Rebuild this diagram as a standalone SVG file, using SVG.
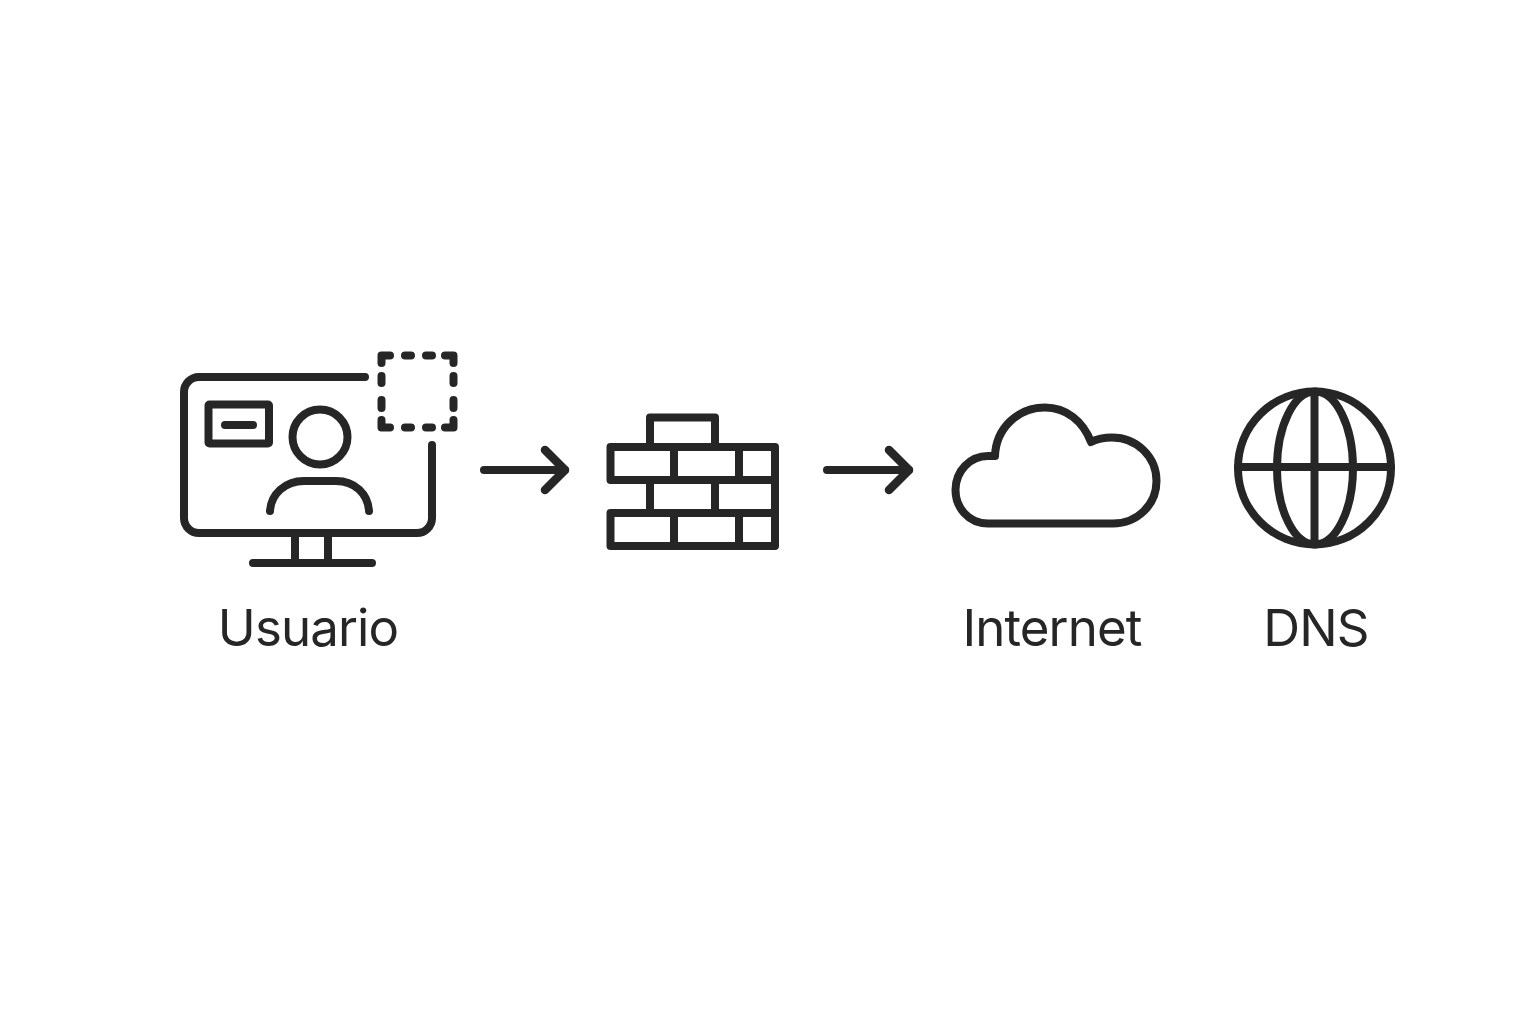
<svg xmlns="http://www.w3.org/2000/svg" width="1536" height="1024" viewBox="0 0 1536 1024">
<style>
.s{fill:none;stroke:#262626;stroke-width:8;stroke-linecap:round;stroke-linejoin:round}
.h{stroke-width:8.500}
.t{font-family:Inter,"Liberation Sans",sans-serif;font-size:51px;letter-spacing:-0.9px;fill:#262626;text-anchor:middle}
</style>
<rect width="1536" height="1024" fill="#fff"/>
<g id="usuario">
<path class="s" d="M365 377H199A15 15 0 0 0 184 392V518A15 15 0 0 0 199 533H417A15 15 0 0 0 432 518V445"/>
<path class="s" d="M295 533V563M328 533V563M253 563H372"/>
<rect class="s" x="208.500" y="404.500" width="60.500" height="39" rx="1"/>
<path class="s" d="M225 425H253"/>
<circle class="s" cx="320" cy="437" r="27.500"/>
<path class="s" d="M270 511C271 494 285 481 304 481H336C355 481 368 494 369 511"/>
<path class="s" d="M381.500 363V355.500H390M405 355.500H411M426 355.500H432M445 355.500H453.500V363M381.500 376V383M381.500 400V408M453.500 376V383M453.500 400V408M381.500 420V427.500H390M405 427.500H411M426 427.500H432M445 427.500H453.500V420"/>
<text class="t" x="308" y="646">Usuario</text>
</g>
<g id="firewall">
<path class="s" d="M610.500 480V447H775V546H610.500V513H775M610.500 480H775M650 447V417.500H715V447M674 447V480M739 447V480M650 480V513M715 480V513M674 513V546M739 513V546"/>
</g>
<g id="internet">
<path class="s" d="M988 523.500C968 523.500 955.500 507 955.500 490C955.500 471 970 456 988 456L995 456C996 428 1018 407.500 1045 407.500C1066 407.500 1083 421 1091 442C1097 439 1104 437.500 1112 437.500C1137 437.500 1156.500 457 1156.500 481C1156.500 505 1137 523.500 1113 523.500Z"/>
<text class="t" x="1052" y="646">Internet</text>
</g>
<g id="dns">
<circle class="s" cx="1314.500" cy="468" r="76.500"/>
<ellipse class="s" cx="1315" cy="468" rx="38" ry="76.500"/>
<path class="s" d="M1314.500 392V544M1238 467H1391"/>
<text class="t" x="1316" y="646">DNS</text>
</g>
<g id="connectors">
<path class="s" d="M484 470H565"/>
<path class="s h" d="M545 450L565 470L545 490"/>
<path class="s" d="M827 470H909"/>
<path class="s h" d="M889 450L909 470L889 490"/>
</g>
</svg>
